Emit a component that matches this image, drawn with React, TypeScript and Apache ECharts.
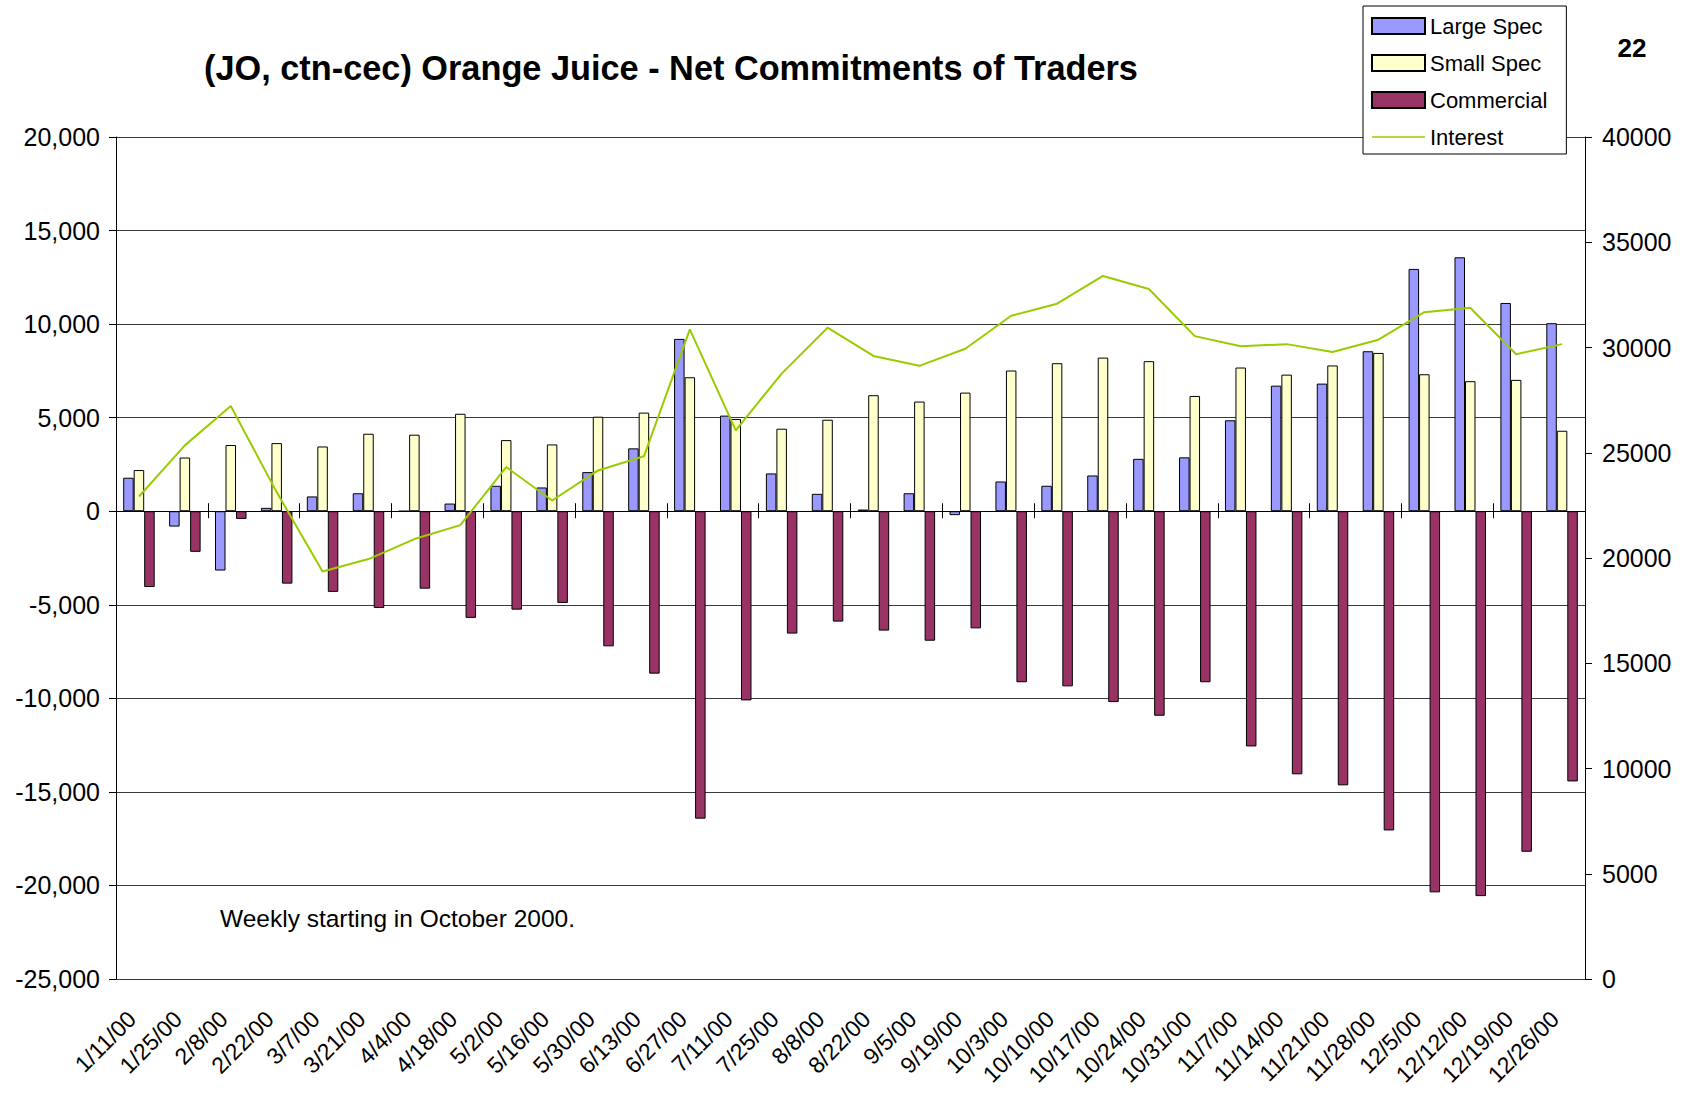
import React, { useEffect, useRef } from "react";
import * as echarts from "echarts";

const categories = ["1/11/00","1/25/00","2/8/00","2/22/00","3/7/00","3/21/00","4/4/00","4/18/00","5/2/00","5/16/00","5/30/00","6/13/00","6/27/00","7/11/00","7/25/00","8/8/00","8/22/00","9/5/00","9/19/00","10/3/00","10/10/00","10/17/00","10/24/00","10/31/00","11/7/00","11/14/00","11/21/00","11/28/00","12/5/00","12/12/00","12/19/00","12/26/00"];

const largeSpec = [1790, -820, -3170, 180, 790, 960, 0, 410, 1360, 1270, 2090, 3360, 9210, 5110, 2020, 930, 90, 960, -210, 1590, 1360, 1910, 2800, 2880, 4860, 6710, 6820, 8550, 12950, 13570, 11130, 10050];
const smallSpec = [2200, 2870, 3540, 3640, 3460, 4140, 4090, 5210, 3800, 3570, 5050, 5270, 7160, 4930, 4410, 4890, 6200, 5860, 6340, 7520, 7910, 8210, 8020, 6160, 7680, 7300, 7790, 8460, 7320, 6950, 7020, 4300];
const commercial = [-4050, -2170, -410, -3870, -4310, -5170, -4140, -5700, -5260, -4900, -7220, -8680, -16430, -10110, -6540, -5900, -6380, -6920, -6260, -9140, -9360, -10200, -10930, -9140, -12570, -14060, -14650, -17060, -20370, -20570, -18200, -14440];
const interest = [22920, 25350, 27220, 23130, 19360, 19950, 20900, 21560, 24320, 22730, 24160, 24830, 30860, 26060, 28760, 30940, 29600, 29130, 29940, 31510, 32080, 33400, 32780, 30540, 30060, 30160, 29790, 30370, 31680, 31890, 29680, 30160];

const FONT = "'Liberation Sans', Arial, sans-serif";

export default function App() {
  const ref = useRef<HTMLDivElement>(null);
  useEffect(() => {
    document.body.style.margin = "0";
    if (!ref.current) return;
    const chart = echarts.init(ref.current, null, { renderer: "svg" });
    const barBase = {
      type: "bar",
      xAxisIndex: 0,
      yAxisIndex: 0,
      barWidth: 10.5,
      barGap: "0%",
    };
    chart.setOption({
      animation: false,
      backgroundColor: "#ffffff",
      textStyle: { fontFamily: FONT },
      grid: { left: 116, right: 107, top: 137, bottom: 118 },
      legend: {
        orient: "vertical",
        left: 1363,
        top: 6,
        backgroundColor: "#ffffff",
        borderColor: "#000",
        borderWidth: 1,
        padding: [9, 19, 6, 8],
        itemWidth: 53,
        itemHeight: 16,
        itemGap: 15,
        textStyle: { fontSize: 22, color: "#000", fontFamily: FONT },
        data: [
          { name: "Large Spec", icon: "rect" },
          { name: "Small Spec", icon: "rect" },
          { name: "Commercial", icon: "rect" },
          { name: "Interest", icon: "path://M0,0 L106,0 L106,3 L0,3 Z" },
        ],
      },
      graphic: [
        {
          type: "text",
          x: 671,
          y: 68,
          style: {
            text: "(JO, ctn-cec) Orange Juice - Net Commitments of Traders",
            font: `bold 34.3px ${FONT}`,
            fill: "#000",
            textAlign: "center",
            textVerticalAlign: "middle",
          },
        },
        {
          type: "text",
          x: 1632,
          y: 48,
          style: {
            text: "22",
            font: `bold 26px ${FONT}`,
            fill: "#000",
            textAlign: "center",
            textVerticalAlign: "middle",
          },
        },
        {
          type: "text",
          x: 220,
          y: 918,
          style: {
            text: "Weekly starting in October 2000.",
            font: `24.5px ${FONT}`,
            fill: "#000",
            textAlign: "left",
            textVerticalAlign: "middle",
          },
        },
      ],
      xAxis: [
        {
          type: "category",
          data: categories,
          position: "bottom",
          axisLine: { show: false, onZero: false },
          axisTick: { show: false },
          axisLabel: {
            interval: 0,
            rotate: 45,
            fontSize: 23,
            color: "#000",
            margin: 29,
            padding: [0, 10, 0, 0],
            fontFamily: FONT,
          },
          splitLine: { show: false },
        },
        {
          type: "category",
          data: categories,
          position: "bottom",
          axisLine: { show: true, onZero: true, onZeroAxisIndex: 0, lineStyle: { color: "#000", width: 1 } },
          axisTick: { show: true, inside: true, length: 8, lineStyle: { color: "#000" } },
          axisLabel: { show: false },
          splitLine: { show: false },
        },
        {
          type: "category",
          data: categories,
          position: "bottom",
          axisLine: { show: true, onZero: true, onZeroAxisIndex: 0, lineStyle: { color: "#000", width: 1 } },
          axisTick: { show: true, inside: false, length: 7, lineStyle: { color: "#000" } },
          axisLabel: { show: false },
          splitLine: { show: false },
        },
      ],
      yAxis: [
        {
          type: "value",
          position: "left",
          min: -25000,
          max: 20000,
          interval: 5000,
          axisLine: { show: true, lineStyle: { color: "#000", width: 1 } },
          axisTick: { show: true, length: 7, lineStyle: { color: "#000" } },
          axisLabel: {
            fontSize: 25,
            color: "#000",
            margin: 16,
            fontFamily: FONT,
            formatter: (v: number) => v.toLocaleString("en-US"),
          },
          splitLine: { show: true, lineStyle: { color: "#3a3a3a", width: 1 } },
        },
        {
          type: "value",
          position: "right",
          min: 0,
          max: 40000,
          interval: 5000,
          axisLine: { show: true, lineStyle: { color: "#000", width: 1 } },
          axisTick: { show: true, length: 7, lineStyle: { color: "#000" } },
          axisLabel: {
            fontSize: 25,
            color: "#000",
            margin: 17,
            fontFamily: FONT,
            formatter: (v: number) => String(v),
          },
          splitLine: { show: false },
        },
      ],
      series: [
        {
          ...barBase,
          name: "Large Spec",
          data: largeSpec,
          itemStyle: { color: "#9999FF", borderColor: "#000", borderWidth: 1 },
        },
        {
          ...barBase,
          name: "Small Spec",
          data: smallSpec,
          itemStyle: { color: "#FFFFCC", borderColor: "#000", borderWidth: 1 },
        },
        {
          ...barBase,
          name: "Commercial",
          data: commercial,
          itemStyle: { color: "#993366", borderColor: "#000", borderWidth: 1 },
        },
        {
          type: "line",
          name: "Interest",
          xAxisIndex: 0,
          yAxisIndex: 1,
          data: interest,
          symbol: "none",
          showSymbol: false,
          lineStyle: { color: "#99CC00", width: 2 },
          itemStyle: { color: "#99CC00" },
        },
      ],
    });
    return () => chart.dispose();
  }, []);
  return <div ref={ref} style={{ width: 1692, height: 1097 }} />;
}
